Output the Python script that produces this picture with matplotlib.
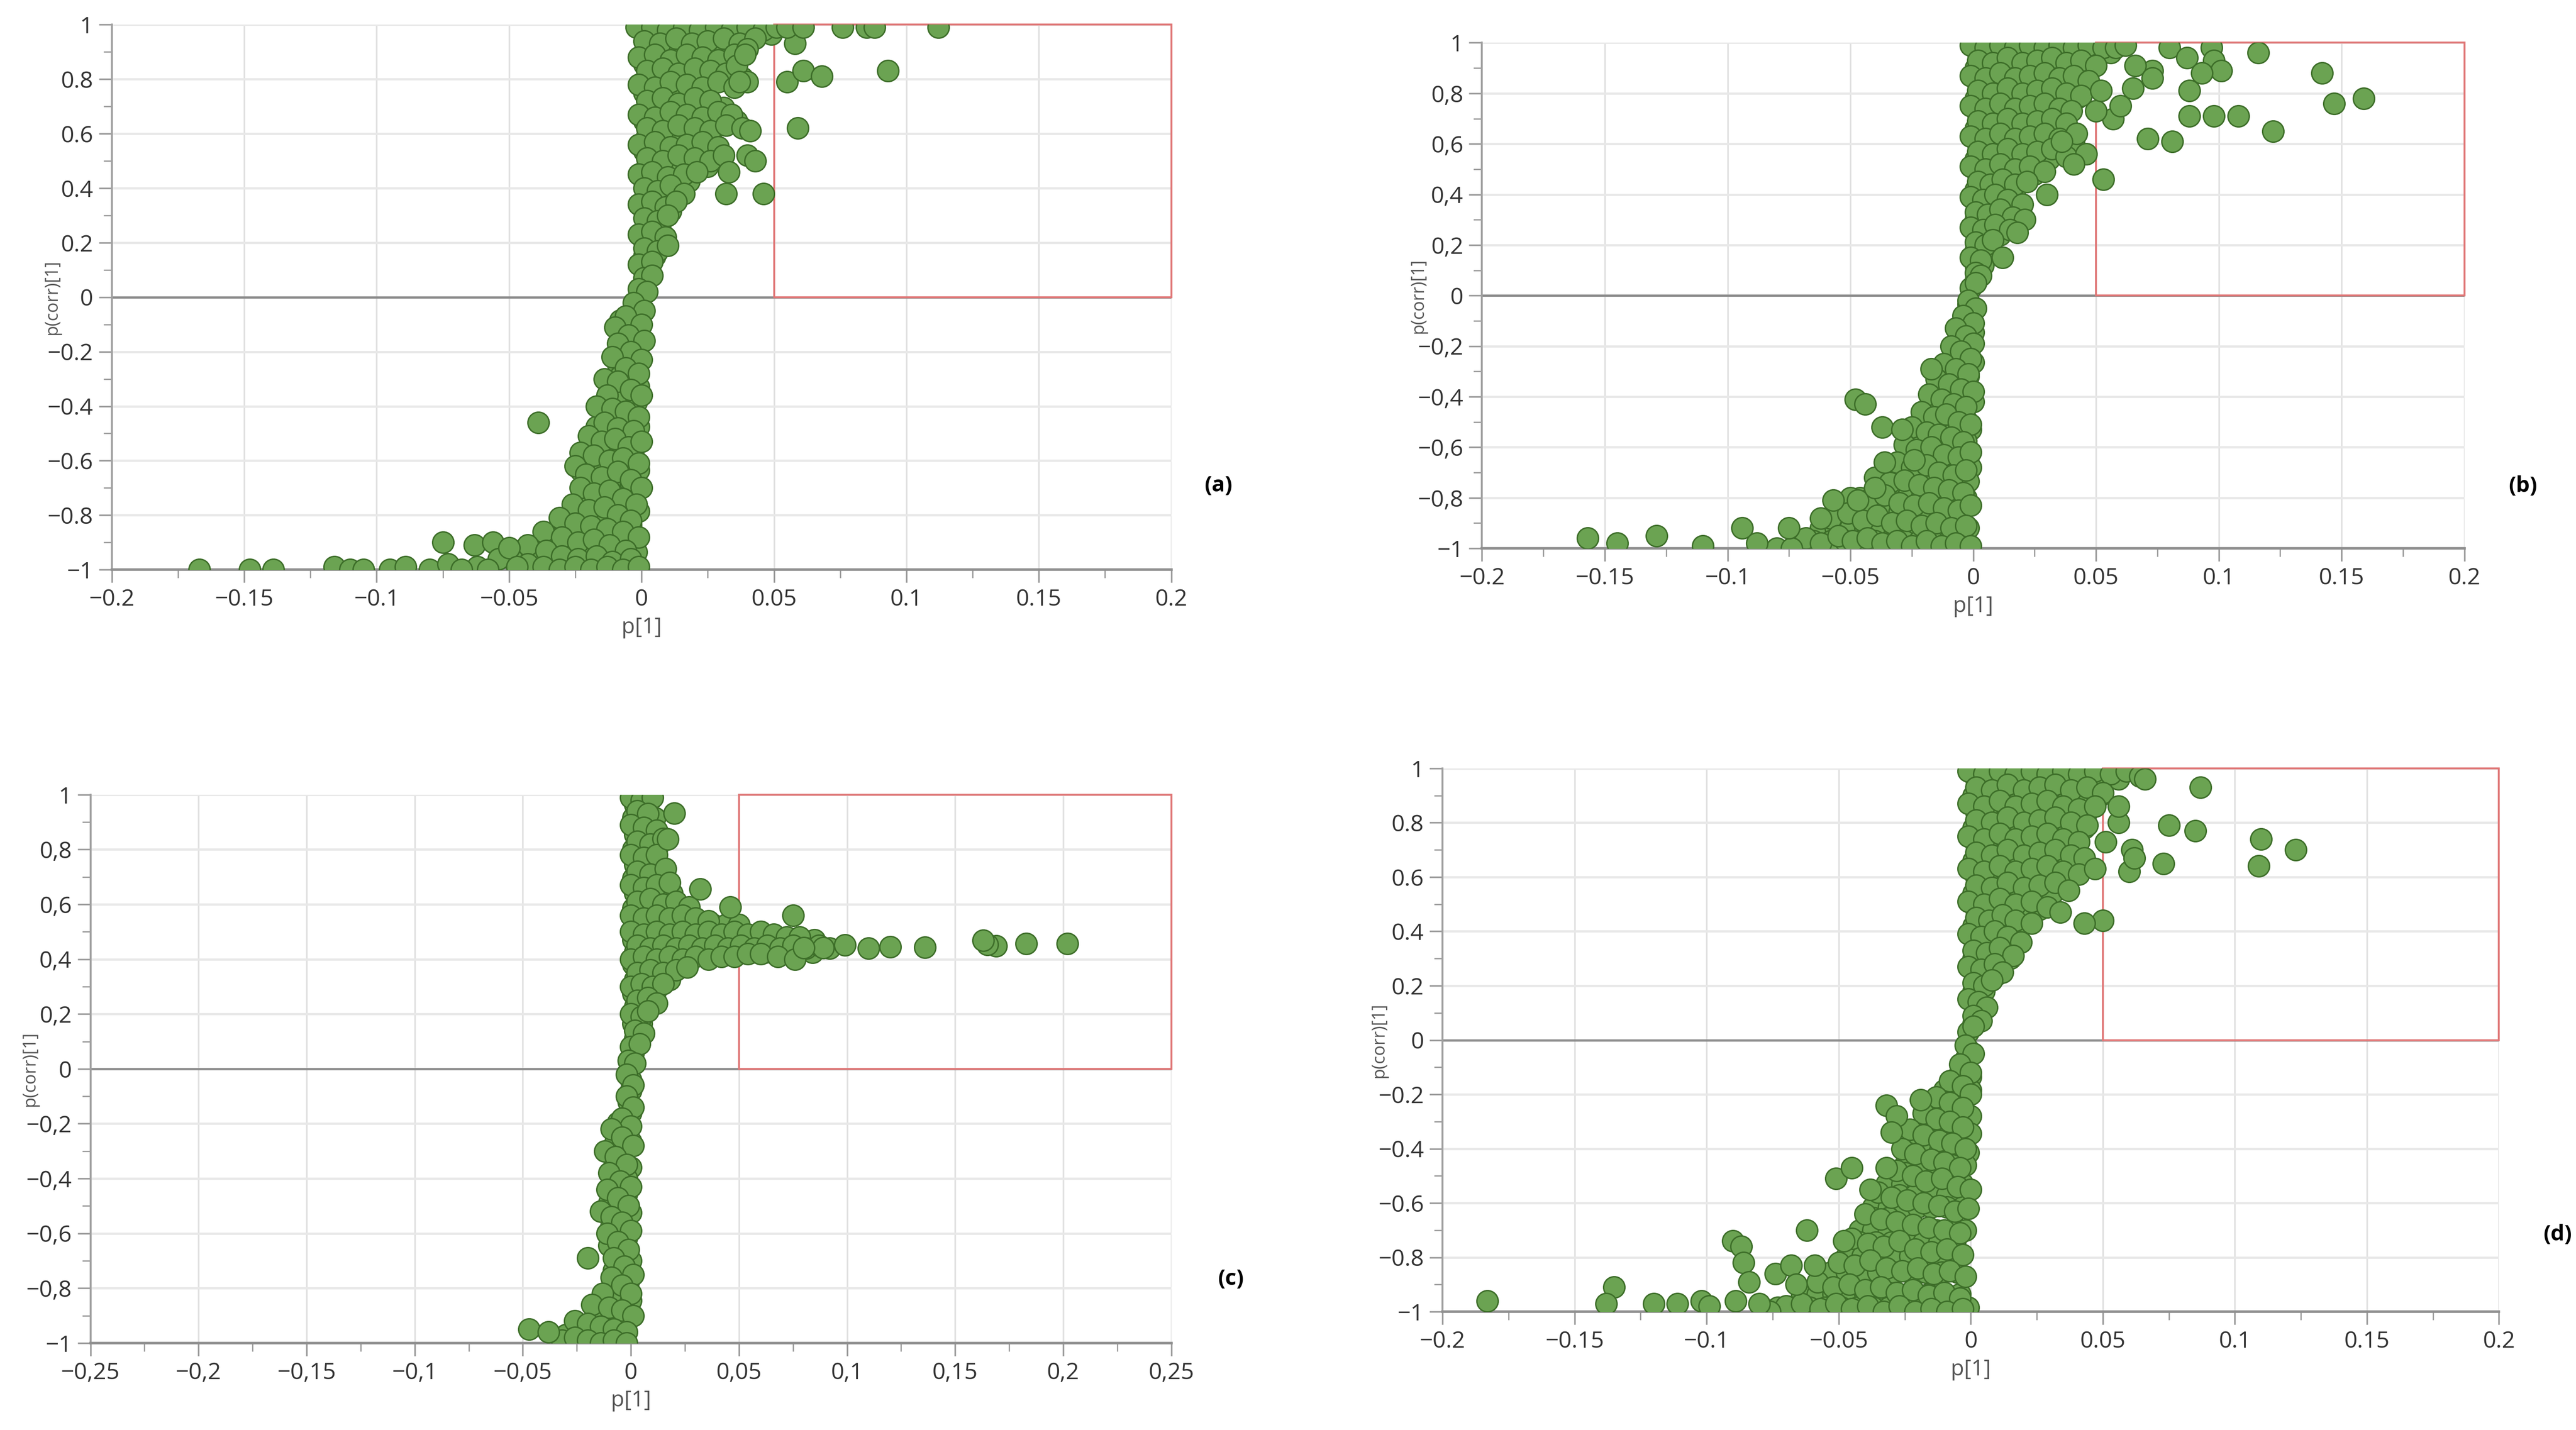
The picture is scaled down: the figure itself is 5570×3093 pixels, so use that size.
import numpy as np
import matplotlib
matplotlib.use("Agg")
import matplotlib.pyplot as plt
from matplotlib.ticker import MultipleLocator, FuncFormatter
from matplotlib.patches import Rectangle

plt.rcParams['font.family'] = ['Open Sans', 'DejaVu Sans']

# ---- data (p[1], p(corr)[1]) ----
a_upper = [
    (-0.002, 0.99), (0.004, 0.99), (0.010, 0.98), (0.016, 0.99), (0.022, 0.98), (0.028, 0.99), (0.034, 0.98), (0.040, 0.99), (0.046, 0.98), (0.051, 0.99),
    (0.001, 0.94), (0.007, 0.93), (0.013, 0.95), (0.019, 0.93), (0.025, 0.94), (0.031, 0.95), (0.037, 0.93), (0.043, 0.95),
    (-0.001, 0.88), (0.005, 0.89), (0.011, 0.87), (0.017, 0.89), (0.023, 0.88), (0.029, 0.87), (0.035, 0.89), (0.040, 0.91),
    (0.002, 0.83), (0.008, 0.84), (0.014, 0.82), (0.020, 0.84), (0.026, 0.83), (0.032, 0.82), (0.036, 0.85),
    (-0.001, 0.78), (0.005, 0.77), (0.011, 0.79), (0.017, 0.78), (0.023, 0.77), (0.029, 0.79), (0.035, 0.77), (0.040, 0.79),
    (0.002, 0.72), (0.008, 0.73), (0.014, 0.71), (0.020, 0.73), (0.026, 0.72),
    (-0.001, 0.67), (0.005, 0.66), (0.011, 0.68), (0.017, 0.67), (0.023, 0.66), (0.029, 0.68), (0.034, 0.67),
    (0.002, 0.62), (0.008, 0.61), (0.014, 0.63), (0.020, 0.62), (0.026, 0.61), (0.032, 0.63), (0.038, 0.62), (0.041, 0.61),
    (-0.001, 0.56), (0.005, 0.57), (0.011, 0.55), (0.017, 0.56), (0.023, 0.57), (0.029, 0.55),
    (0.002, 0.51), (0.008, 0.50), (0.014, 0.52), (0.020, 0.51), (0.026, 0.50), (0.031, 0.52),
    (-0.001, 0.45), (0.004, 0.46), (0.010, 0.44), (0.016, 0.45), (0.021, 0.46),
    (0.001, 0.40), (0.006, 0.39), (0.011, 0.41), (0.016, 0.38),
    (-0.001, 0.34), (0.004, 0.35), (0.009, 0.33), (0.013, 0.35),
    (0.001, 0.29), (0.006, 0.28), (0.010, 0.30),
    (-0.001, 0.23), (0.004, 0.24), (0.009, 0.22),
    (0.001, 0.18), (0.006, 0.17), (0.010, 0.19),
    (-0.001, 0.12), (0.004, 0.13),
    (0.001, 0.07), (0.004, 0.08),
    (-0.001, 0.03), (0.002, 0.02),
]
a_lower = [
    (-0.003, -0.02), (0.001, -0.05), (-0.006, -0.07), (0.000, -0.10), (-0.010, -0.11), (-0.005, -0.14), (0.001, -0.16),
    (-0.009, -0.17), (-0.004, -0.20), (0.000, -0.23), (-0.011, -0.22), (-0.006, -0.26), (-0.001, -0.28), (-0.014, -0.30),
    (-0.009, -0.31), (-0.004, -0.34), (0.000, -0.36), (-0.013, -0.36), (-0.017, -0.40), (-0.011, -0.41), (-0.006, -0.42),
    (-0.001, -0.44), (-0.014, -0.46), (-0.009, -0.48), (-0.003, -0.49), (-0.020, -0.51), (-0.015, -0.53), (-0.010, -0.52),
    (-0.005, -0.55), (0.000, -0.53), (-0.023, -0.57), (-0.018, -0.58), (-0.012, -0.60), (-0.007, -0.59), (-0.001, -0.61),
    (-0.025, -0.62), (-0.021, -0.65), (-0.015, -0.66), (-0.009, -0.64), (-0.004, -0.67), (0.000, -0.70), (-0.023, -0.70),
    (-0.018, -0.72), (-0.012, -0.71), (-0.007, -0.74), (-0.002, -0.76), (-0.026, -0.76), (-0.020, -0.78), (-0.014, -0.77),
    (-0.009, -0.80), (-0.004, -0.82), (-0.031, -0.81), (-0.025, -0.83), (-0.019, -0.84), (-0.013, -0.85), (-0.007, -0.86),
    (-0.001, -0.88), (-0.037, -0.86), (-0.030, -0.88), (-0.024, -0.90), (-0.018, -0.89), (-0.012, -0.91), (-0.006, -0.93),
    (-0.043, -0.91), (-0.036, -0.93), (-0.030, -0.95), (-0.024, -0.96), (-0.017, -0.95), (-0.011, -0.97), (-0.004, -0.96),
    (-0.049, -0.96), (-0.043, -0.98), (-0.037, -0.99), (-0.031, -1.00), (-0.025, -0.99), (-0.019, -1.00), (-0.013, -0.99),
    (-0.007, -1.00), (-0.001, -0.99),
]
# extra rows packed between the ones above (p(corr), list of p)
a_fill = [
    (0.965, [0.001, 0.007, 0.013, 0.019, 0.025, 0.031, 0.037, 0.043, 0.049]),
    (0.91, [0.002, 0.008, 0.014, 0.020, 0.026, 0.032, 0.038]),
    (0.855, [0.001, 0.007, 0.013, 0.019, 0.025, 0.031]),
    (0.805, [0.002, 0.008, 0.014, 0.020, 0.026, 0.032, 0.038]),
    (0.75, [0.001, 0.007, 0.013, 0.019, 0.025]),
    (0.695, [0.002, 0.008, 0.014, 0.020, 0.026, 0.031]),
    (0.645, [0.001, 0.007, 0.013, 0.019, 0.025, 0.031, 0.036]),
    (0.59, [0.002, 0.008, 0.014, 0.020, 0.026]),
    (0.535, [0.001, 0.007, 0.013, 0.019, 0.025]),
    (0.48, [0.002, 0.008, 0.014, 0.020, 0.025]),
    (0.425, [0.001, 0.007, 0.013, 0.018]),
    (0.37, [0.002, 0.007, 0.012]),
    (0.315, [0.001, 0.006, 0.011]),
    (0.26, [0.002, 0.007]),
    (0.205, [0.001, 0.006]),
    (0.15, [0.001, 0.005]),
    (0.095, [0.001]),
    (0.05, [0.001]),
    (-0.04, [-0.002]),
    (-0.085, [-0.003, -0.008]),
    (-0.13, [-0.002, -0.008]),
    (-0.19, [-0.002, -0.007]),
    (-0.245, [-0.003, -0.009]),
    (-0.29, [-0.002, -0.008]),
    (-0.33, [-0.012, -0.006, -0.001]),
    (-0.385, [-0.014, -0.008, -0.002]),
    (-0.435, [-0.011, -0.005]),
    (-0.475, [-0.017, -0.012, -0.006, -0.001]),
    (-0.535, [-0.019, -0.013, -0.007, -0.002]),
    (-0.585, [-0.021, -0.015, -0.009, -0.003]),
    (-0.635, [-0.023, -0.017, -0.011, -0.006, -0.001]),
    (-0.685, [-0.020, -0.015, -0.009, -0.004]),
    (-0.73, [-0.021, -0.015, -0.010, -0.004]),
    (-0.785, [-0.023, -0.017, -0.011, -0.006, -0.001]),
    (-0.835, [-0.028, -0.022, -0.016, -0.010, -0.004]),
    (-0.885, [-0.034, -0.027, -0.021, -0.015, -0.009, -0.003]),
    (-0.935, [-0.040, -0.033, -0.027, -0.020, -0.014, -0.008, -0.002]),
    (-0.975, [-0.046, -0.040, -0.034, -0.028, -0.022, -0.016, -0.010, -0.004]),
]
a_outliers = [
    (0.046, 0.38), (0.032, 0.38), (0.033, 0.46), (0.040, 0.52), (0.043, 0.50), (0.037, 0.79), (0.039, 0.89),
    (0.055, 0.79), (0.061, 0.83), (0.068, 0.81), (0.093, 0.83), (0.059, 0.62), (0.058, 0.93),
    (0.055, 0.99), (0.061, 0.99), (0.076, 0.99), (0.085, 0.99), (0.088, 0.99), (0.112, 0.99),
    (-0.039, -0.46), (-0.167, -1.00), (-0.148, -1.00), (-0.139, -1.00), (-0.116, -0.99), (-0.110, -1.00),
    (-0.105, -1.00), (-0.095, -1.00), (-0.089, -0.99), (-0.080, -1.00), (-0.075, -0.90), (-0.073, -0.98),
    (-0.063, -0.91), (-0.062, -0.99), (-0.056, -0.90), (-0.054, -0.96), (-0.050, -0.92), (-0.047, -0.99),
    (-0.068, -1.00), (-0.058, -1.00),
]

b_upper = [
    (-0.001, 0.99), (0.005, 0.98), (0.011, 0.99), (0.017, 0.98), (0.023, 0.99), (0.029, 0.98), (0.035, 0.99), (0.041, 0.98), (0.047, 0.99), (0.053, 0.98), (0.060, 0.99),
    (0.002, 0.93), (0.008, 0.92), (0.014, 0.94), (0.020, 0.92), (0.026, 0.93), (0.032, 0.94), (0.038, 0.92), (0.044, 0.93), (0.050, 0.91),
    (-0.001, 0.87), (0.005, 0.86), (0.011, 0.88), (0.017, 0.86), (0.023, 0.87), (0.029, 0.88), (0.035, 0.86), (0.041, 0.87), (0.047, 0.85),
    (0.002, 0.81), (0.008, 0.80), (0.014, 0.82), (0.020, 0.80), (0.026, 0.81), (0.032, 0.82), (0.038, 0.80), (0.044, 0.79),
    (-0.001, 0.75), (0.005, 0.74), (0.011, 0.76), (0.017, 0.74), (0.023, 0.75), (0.029, 0.76), (0.035, 0.74), (0.040, 0.73),
    (0.002, 0.69), (0.008, 0.68), (0.014, 0.70), (0.020, 0.68), (0.026, 0.69), (0.032, 0.70), (0.038, 0.68),
    (-0.001, 0.63), (0.005, 0.62), (0.011, 0.64), (0.017, 0.62), (0.023, 0.63), (0.029, 0.64), (0.035, 0.62), (0.041, 0.61),
    (0.002, 0.57), (0.008, 0.56), (0.014, 0.58), (0.020, 0.56), (0.026, 0.57), (0.032, 0.58), (0.038, 0.55),
    (-0.001, 0.51), (0.005, 0.50), (0.011, 0.52), (0.017, 0.50), (0.023, 0.51), (0.029, 0.49),
    (0.002, 0.45), (0.007, 0.44), (0.012, 0.46), (0.017, 0.44), (0.022, 0.45),
    (-0.001, 0.39), (0.004, 0.38), (0.009, 0.40), (0.014, 0.38), (0.020, 0.36),
    (0.001, 0.33), (0.006, 0.32), (0.011, 0.34), (0.016, 0.31), (0.021, 0.30),
    (-0.001, 0.27), (0.004, 0.26), (0.009, 0.28), (0.015, 0.26), (0.018, 0.25),
    (0.001, 0.21), (0.005, 0.20), (0.008, 0.22),
    (-0.001, 0.15), (0.003, 0.14),
    (0.001, 0.09), (0.003, 0.08),
    (-0.001, 0.03), (0.001, 0.05),
]
b_lower = [
    (-0.002, -0.02), (0.001, -0.05), (-0.004, -0.08), (0.000, -0.11), (-0.007, -0.13), (-0.003, -0.16), (0.000, -0.19),
    (-0.009, -0.20), (-0.005, -0.22), (-0.001, -0.25), (-0.012, -0.27), (-0.007, -0.29), (-0.002, -0.31), (-0.015, -0.33),
    (-0.010, -0.35), (-0.005, -0.37), (0.000, -0.38), (-0.018, -0.39), (-0.013, -0.41), (-0.008, -0.43), (-0.003, -0.44),
    (-0.021, -0.46), (-0.016, -0.48), (-0.011, -0.47), (-0.006, -0.50), (-0.001, -0.51), (-0.025, -0.52), (-0.019, -0.54),
    (-0.014, -0.55), (-0.009, -0.56), (-0.004, -0.58), (-0.028, -0.59), (-0.023, -0.61), (-0.017, -0.60), (-0.012, -0.63),
    (-0.006, -0.64), (-0.001, -0.62), (-0.031, -0.66), (-0.025, -0.68), (-0.019, -0.67), (-0.014, -0.70), (-0.008, -0.71),
    (-0.003, -0.69), (-0.040, -0.72), (-0.034, -0.74), (-0.028, -0.73), (-0.022, -0.75), (-0.016, -0.76), (-0.010, -0.77),
    (-0.004, -0.78), (-0.050, -0.80), (-0.043, -0.81), (-0.036, -0.79), (-0.030, -0.82), (-0.024, -0.83), (-0.018, -0.82),
    (-0.012, -0.84), (-0.006, -0.85), (-0.001, -0.83), (-0.058, -0.88), (-0.051, -0.86), (-0.045, -0.89), (-0.039, -0.87),
    (-0.033, -0.90), (-0.027, -0.89), (-0.021, -0.91), (-0.015, -0.90), (-0.009, -0.92), (-0.003, -0.91), (-0.068, -0.96),
    (-0.062, -0.98), (-0.055, -0.95), (-0.049, -0.97), (-0.043, -0.96), (-0.037, -0.98), (-0.031, -0.97), (-0.025, -0.99),
    (-0.019, -0.97), (-0.013, -0.99), (-0.007, -0.98), (-0.001, -0.99), (-0.080, -1.00), (-0.074, -1.00),
]
b_fill = [
    (0.96, [0.002, 0.008, 0.014, 0.020, 0.026, 0.032, 0.038, 0.044, 0.050, 0.056]),
    (0.90, [0.001, 0.007, 0.013, 0.019, 0.025, 0.031, 0.037, 0.043, 0.048]),
    (0.84, [0.002, 0.008, 0.014, 0.020, 0.026, 0.032, 0.038, 0.044]),
    (0.78, [0.001, 0.007, 0.013, 0.019, 0.025, 0.031, 0.037, 0.042]),
    (0.72, [0.002, 0.008, 0.014, 0.020, 0.026, 0.032, 0.037]),
    (0.66, [0.001, 0.007, 0.013, 0.019, 0.025, 0.031, 0.037]),
    (0.60, [0.002, 0.008, 0.014, 0.020, 0.026, 0.032, 0.038]),
    (0.54, [0.001, 0.007, 0.013, 0.019, 0.025, 0.031]),
    (0.48, [0.002, 0.008, 0.014, 0.020, 0.025]),
    (0.42, [0.001, 0.007, 0.012, 0.017]),
    (0.36, [0.002, 0.007, 0.012, 0.017]),
    (0.30, [0.001, 0.006, 0.011, 0.016]),
    (0.24, [0.002, 0.007, 0.011]),
    (0.18, [0.001, 0.005]),
    (0.12, [0.001, 0.004]),
    (0.06, [0.001]),
    (-0.035, [-0.002]),
    (-0.095, [-0.003]),
    (-0.145, [-0.005, 0.000]),
    (-0.21, [-0.007, -0.002]),
    (-0.265, [-0.009, -0.004, 0.000]),
    (-0.32, [-0.012, -0.007, -0.002]),
    (-0.36, [-0.013, -0.008, -0.003]),
    (-0.42, [-0.016, -0.010, -0.005, 0.000]),
    (-0.49, [-0.019, -0.013, -0.008, -0.003]),
    (-0.53, [-0.022, -0.016, -0.011, -0.006, -0.001]),
    (-0.575, [-0.025, -0.020, -0.014, -0.009, -0.003]),
    (-0.62, [-0.026, -0.020, -0.015, -0.009, -0.004]),
    (-0.68, [-0.028, -0.022, -0.017, -0.011, -0.006, -0.001]),
    (-0.735, [-0.037, -0.031, -0.025, -0.019, -0.013, -0.007, -0.002]),
    (-0.80, [-0.046, -0.040, -0.033, -0.027, -0.021, -0.015, -0.009, -0.003]),
    (-0.855, [-0.054, -0.048, -0.042, -0.036, -0.030, -0.024, -0.018, -0.012, -0.006]),
    (-0.92, [-0.062, -0.056, -0.050, -0.044, -0.038, -0.032, -0.026, -0.020, -0.014, -0.008, -0.002]),
    (-0.97, [-0.072, -0.065, -0.058, -0.052, -0.046, -0.040, -0.034, -0.028, -0.022, -0.016, -0.010, -0.004]),
]
b_outliers = [
    (0.116, 0.96), (0.142, 0.88), (0.147, 0.76), (0.159, 0.78), (0.122, 0.65), (0.108, 0.71), (0.098, 0.71),
    (0.088, 0.71), (0.088, 0.81), (0.081, 0.61), (0.071, 0.62), (0.080, 0.98), (0.087, 0.94), (0.097, 0.98),
    (0.098, 0.93), (0.101, 0.89), (0.093, 0.88), (0.053, 0.46), (0.030, 0.40), (0.046, 0.56), (0.057, 0.70),
    (0.060, 0.75), (0.065, 0.82), (0.073, 0.89), (0.066, 0.91), (0.058, 0.98), (0.062, 0.99), (0.073, 0.86),
    (0.050, 0.73), (0.052, 0.81), (0.042, 0.64), (0.036, 0.61), (0.041, 0.52), (0.012, 0.15),
    (-0.157, -0.96), (-0.145, -0.98), (-0.129, -0.95), (-0.110, -0.99), (-0.094, -0.92), (-0.088, -0.98),
    (-0.075, -0.92), (-0.062, -0.88), (-0.057, -0.81), (-0.048, -0.41), (-0.044, -0.43), (-0.037, -0.52),
    (-0.029, -0.53), (-0.036, -0.66), (-0.024, -0.65), (-0.047, -0.81), (-0.040, -0.76), (-0.017, -0.29),
]

c_upper = [
    (0.000, 0.99), (0.005, 0.98), (0.010, 0.99), (0.003, 0.94), (0.008, 0.93), (0.000, 0.89), (0.006, 0.88), (0.012, 0.87),
    (0.003, 0.83), (0.009, 0.82), (0.015, 0.84), (0.000, 0.78), (0.006, 0.77), (0.012, 0.78), (0.003, 0.72), (0.009, 0.71),
    (0.016, 0.73), (0.000, 0.67), (0.006, 0.66), (0.012, 0.67), (0.018, 0.68), (0.003, 0.61), (0.009, 0.62), (0.015, 0.60),
    (0.021, 0.61), (0.027, 0.59), (0.000, 0.56), (0.006, 0.55), (0.012, 0.56), (0.018, 0.55), (0.024, 0.56), (0.030, 0.55),
    (0.036, 0.54),
    (0.000, 0.50), (0.006, 0.49), (0.012, 0.50), (0.018, 0.49), (0.024, 0.50), (0.030, 0.49), (0.036, 0.50), (0.042, 0.49),
    (0.048, 0.50), (0.054, 0.49), (0.060, 0.50), (0.066, 0.49), (0.072, 0.48), (0.078, 0.48),
    (0.003, 0.45), (0.009, 0.44), (0.015, 0.45), (0.021, 0.44), (0.027, 0.45), (0.033, 0.44), (0.039, 0.45), (0.045, 0.44),
    (0.051, 0.45), (0.057, 0.44), (0.063, 0.45), (0.069, 0.44), (0.075, 0.45), (0.081, 0.44), (0.087, 0.45), (0.092, 0.44),
    (0.000, 0.40), (0.006, 0.41), (0.012, 0.40), (0.018, 0.41), (0.024, 0.40), (0.030, 0.41), (0.036, 0.40), (0.042, 0.41),
    (0.048, 0.41), (0.054, 0.42), (0.060, 0.42), (0.068, 0.41), (0.076, 0.40),
    (0.003, 0.35), (0.009, 0.36), (0.015, 0.35), (0.021, 0.36), (0.026, 0.37),
    (0.000, 0.30), (0.005, 0.31), (0.010, 0.30), (0.015, 0.31),
    (0.003, 0.25), (0.008, 0.26), (0.012, 0.24),
    (0.000, 0.20), (0.005, 0.19), (0.008, 0.21),
    (0.002, 0.14), (0.006, 0.13),
    (0.000, 0.08), (0.004, 0.09),
    (-0.001, 0.03), (0.002, 0.02),
]
c_lower = [
    (-0.002, -0.02), (0.001, -0.06), (-0.002, -0.10), (0.001, -0.14), (-0.004, -0.18), (0.000, -0.21), (-0.009, -0.22),
    (-0.004, -0.25), (0.001, -0.28), (-0.012, -0.30), (-0.007, -0.32), (-0.002, -0.35), (-0.010, -0.38), (-0.005, -0.41),
    (0.000, -0.43), (-0.011, -0.44), (-0.006, -0.47), (-0.001, -0.50), (-0.014, -0.52), (-0.009, -0.54), (-0.004, -0.56),
    (0.000, -0.59), (-0.011, -0.60), (-0.006, -0.63), (-0.001, -0.66), (-0.020, -0.69), (-0.008, -0.69), (-0.003, -0.72),
    (0.001, -0.75), (-0.009, -0.76), (-0.004, -0.79), (0.000, -0.82), (-0.013, -0.82), (-0.018, -0.86), (-0.010, -0.87),
    (-0.004, -0.88), (0.001, -0.90), (-0.026, -0.92), (-0.020, -0.93), (-0.014, -0.94), (-0.008, -0.95), (-0.002, -0.96),
    (-0.032, -0.99), (-0.026, -0.98), (-0.020, -0.99), (-0.014, -1.00), (-0.008, -0.99), (-0.002, -1.00),
]
c_fill = [
    (0.965, [0.002, 0.007]),
    (0.915, [0.001, 0.006, 0.011]),
    (0.855, [0.002, 0.008, 0.013]),
    (0.80, [0.001, 0.007, 0.012]),
    (0.745, [0.002, 0.008, 0.013]),
    (0.695, [0.001, 0.007, 0.013]),
    (0.64, [0.002, 0.008, 0.014, 0.019]),
    (0.585, [0.001, 0.007, 0.013, 0.019, 0.024]),
    (0.525, [0.002, 0.008, 0.014, 0.020, 0.026, 0.032, 0.038, 0.044, 0.050]),
    (0.47, [0.001, 0.007, 0.013, 0.019, 0.025, 0.031, 0.037, 0.043, 0.049, 0.055, 0.061, 0.067, 0.073, 0.079, 0.085]),
    (0.425, [0.002, 0.008, 0.014, 0.020, 0.026, 0.032, 0.038, 0.044, 0.050, 0.056, 0.062, 0.072, 0.084]),
    (0.38, [0.001, 0.007, 0.013, 0.019, 0.025]),
    (0.325, [0.002, 0.008, 0.013, 0.018]),
    (0.275, [0.001, 0.006, 0.011]),
    (0.225, [0.002, 0.007]),
    (0.165, [0.001, 0.005]),
    (0.11, [0.002]),
    (0.055, [0.001]),
    (-0.04, [0.000]),
    (-0.08, [0.000]),
    (-0.12, [-0.001]),
    (-0.16, [0.000]),
    (-0.195, [-0.006]),
    (-0.235, [-0.002]),
    (-0.265, [-0.007, 0.000]),
    (-0.33, [-0.004]),
    (-0.36, [-0.008, 0.000]),
    (-0.40, [-0.002]),
    (-0.455, [-0.002]),
    (-0.49, [-0.010]),
    (-0.525, [-0.005, 0.000]),
    (-0.57, [-0.009]),
    (-0.615, [-0.002]),
    (-0.645, [-0.010]),
    (-0.70, [-0.005, 0.000]),
    (-0.735, [-0.008]),
    (-0.775, [-0.001]),
    (-0.80, [-0.008]),
    (-0.845, [-0.005, 0.000]),
    (-0.89, [-0.014]),
    (-0.925, [-0.007, -0.002]),
    (-0.97, [-0.030, -0.023, -0.017, -0.011, -0.005]),
]
c_outliers = [
    (0.202, 0.457), (0.183, 0.457), (0.169, 0.449), (0.165, 0.454), (0.163, 0.469), (0.136, 0.444), (0.120, 0.445),
    (0.110, 0.440), (0.099, 0.452), (0.089, 0.441), (0.080, 0.441), (0.075, 0.56), (0.046, 0.59), (0.032, 0.655),
    (0.020, 0.933), (0.017, 0.838), (-0.047, -0.95), (-0.038, -0.96),
]

d_upper = [
    (-0.001, 0.99), (0.005, 0.98), (0.011, 0.99), (0.017, 0.98), (0.023, 0.99), (0.029, 0.98), (0.035, 0.99), (0.041, 0.98), (0.047, 0.99), (0.053, 0.98), (0.059, 0.99), (0.064, 0.97),
    (0.002, 0.93), (0.008, 0.92), (0.014, 0.94), (0.020, 0.92), (0.026, 0.93), (0.032, 0.94), (0.038, 0.92), (0.044, 0.93), (0.050, 0.91),
    (-0.001, 0.87), (0.005, 0.86), (0.011, 0.88), (0.017, 0.86), (0.023, 0.87), (0.029, 0.88), (0.035, 0.86), (0.041, 0.85), (0.047, 0.86),
    (0.002, 0.81), (0.008, 0.80), (0.014, 0.82), (0.020, 0.80), (0.026, 0.81), (0.032, 0.82), (0.038, 0.80), (0.044, 0.79),
    (-0.001, 0.75), (0.005, 0.74), (0.011, 0.76), (0.017, 0.74), (0.023, 0.75), (0.029, 0.76), (0.035, 0.74), (0.041, 0.73),
    (0.002, 0.69), (0.008, 0.68), (0.014, 0.70), (0.020, 0.68), (0.026, 0.69), (0.032, 0.70), (0.038, 0.68), (0.043, 0.67),
    (-0.001, 0.63), (0.005, 0.62), (0.011, 0.64), (0.017, 0.62), (0.023, 0.63), (0.029, 0.64), (0.035, 0.62), (0.041, 0.61),
    (0.002, 0.57), (0.008, 0.56), (0.014, 0.58), (0.020, 0.56), (0.026, 0.57), (0.032, 0.58), (0.037, 0.55),
    (-0.001, 0.51), (0.005, 0.50), (0.011, 0.52), (0.017, 0.50), (0.023, 0.51), (0.029, 0.49), (0.034, 0.47),
    (0.002, 0.45), (0.007, 0.44), (0.012, 0.46), (0.017, 0.44), (0.023, 0.43),
    (-0.001, 0.39), (0.004, 0.38), (0.009, 0.40), (0.014, 0.38), (0.019, 0.36),
    (0.001, 0.33), (0.006, 0.32), (0.011, 0.34), (0.016, 0.31),
    (-0.001, 0.27), (0.004, 0.26), (0.009, 0.28), (0.012, 0.25),
    (0.001, 0.21), (0.005, 0.20), (0.008, 0.22),
    (-0.001, 0.15), (0.003, 0.14), (0.006, 0.12),
    (0.001, 0.09), (0.004, 0.07),
    (-0.001, 0.03), (0.001, 0.05),
]
d_lower = [
    (-0.002, -0.02), (0.001, -0.05), (-0.004, -0.09), (0.000, -0.12), (-0.008, -0.15), (-0.003, -0.17), (0.000, -0.20),
    (-0.013, -0.21), (-0.008, -0.23), (-0.003, -0.25), (-0.018, -0.27), (-0.013, -0.29), (-0.008, -0.30), (-0.003, -0.32),
    (-0.023, -0.33), (-0.018, -0.35), (-0.012, -0.37), (-0.007, -0.38), (-0.002, -0.40), (-0.026, -0.40), (-0.021, -0.42),
    (-0.015, -0.44), (-0.010, -0.45), (-0.004, -0.47), (-0.028, -0.48), (-0.022, -0.50), (-0.017, -0.52), (-0.011, -0.51),
    (-0.005, -0.54), (0.000, -0.55), (-0.035, -0.56), (-0.030, -0.58), (-0.024, -0.59), (-0.018, -0.60), (-0.012, -0.61),
    (-0.006, -0.63), (-0.001, -0.62), (-0.040, -0.64), (-0.034, -0.66), (-0.028, -0.67), (-0.022, -0.68), (-0.016, -0.69),
    (-0.010, -0.70), (-0.004, -0.71), (-0.045, -0.73), (-0.039, -0.75), (-0.033, -0.76), (-0.027, -0.74), (-0.021, -0.77),
    (-0.015, -0.78), (-0.009, -0.77), (-0.003, -0.79), (-0.050, -0.82), (-0.044, -0.83), (-0.038, -0.81), (-0.032, -0.84),
    (-0.026, -0.85), (-0.020, -0.84), (-0.014, -0.86), (-0.008, -0.85), (-0.002, -0.87), (-0.058, -0.89), (-0.052, -0.91),
    (-0.046, -0.90), (-0.040, -0.92), (-0.034, -0.91), (-0.028, -0.93), (-0.022, -0.92), (-0.016, -0.94), (-0.010, -0.93),
    (-0.004, -0.95), (-0.070, -0.98), (-0.064, -0.97), (-0.057, -0.99), (-0.051, -0.97), (-0.045, -0.99), (-0.039, -0.98),
    (-0.033, -1.00), (-0.027, -0.98), (-0.021, -1.00), (-0.015, -0.99), (-0.009, -1.00), (-0.003, -0.99), (-0.076, -1.00),
]
d_fill = [
    (0.96, [0.002, 0.008, 0.014, 0.020, 0.026, 0.032, 0.038, 0.044, 0.050, 0.056]),
    (0.90, [0.001, 0.007, 0.013, 0.019, 0.025, 0.031, 0.037, 0.043, 0.049]),
    (0.84, [0.002, 0.008, 0.014, 0.020, 0.026, 0.032, 0.038, 0.044]),
    (0.78, [0.001, 0.007, 0.013, 0.019, 0.025, 0.031, 0.037, 0.043]),
    (0.72, [0.002, 0.008, 0.014, 0.020, 0.026, 0.032, 0.038]),
    (0.66, [0.001, 0.007, 0.013, 0.019, 0.025, 0.031, 0.037, 0.042]),
    (0.60, [0.002, 0.008, 0.014, 0.020, 0.026, 0.032, 0.038]),
    (0.54, [0.001, 0.007, 0.013, 0.019, 0.025, 0.031]),
    (0.48, [0.002, 0.008, 0.014, 0.020, 0.026]),
    (0.42, [0.001, 0.007, 0.013, 0.018]),
    (0.36, [0.002, 0.007, 0.012, 0.017]),
    (0.30, [0.001, 0.006, 0.011, 0.015]),
    (0.24, [0.002, 0.007, 0.010]),
    (0.18, [0.001, 0.005]),
    (0.10, [0.002]),
    (0.06, [0.001]),
    (-0.035, [-0.001]),
    (-0.07, [-0.002]),
    (-0.105, [-0.002]),
    (-0.135, [-0.005, 0.000]),
    (-0.185, [-0.010, -0.005, 0.000]),
    (-0.22, [-0.004]),
    (-0.28, [-0.016, -0.010, -0.005, 0.000]),
    (-0.31, [-0.018]),
    (-0.345, [-0.021, -0.015, -0.010, -0.004, 0.000]),
    (-0.415, [-0.024, -0.018, -0.012, -0.007, -0.001]),
    (-0.46, [-0.025, -0.019, -0.013, -0.007, -0.002]),
    (-0.49, [-0.025]),
    (-0.53, [-0.032, -0.026, -0.020, -0.014, -0.008, -0.003]),
    (-0.57, [-0.027, -0.021, -0.015, -0.009]),
    (-0.615, [-0.037, -0.031, -0.025, -0.020, -0.015, -0.009, -0.003]),
    (-0.655, [-0.037, -0.031]),
    (-0.70, [-0.042, -0.037, -0.031, -0.025, -0.019, -0.013, -0.007, -0.002]),
    (-0.745, [-0.042, -0.036, -0.030, -0.024, -0.018, -0.012, -0.006]),
    (-0.795, [-0.047, -0.041, -0.035, -0.029, -0.023, -0.017, -0.011, -0.005]),
    (-0.855, [-0.053, -0.047, -0.041, -0.035, -0.029, -0.023, -0.017, -0.011, -0.005]),
    (-0.935, [-0.064, -0.058, -0.052, -0.046, -0.040, -0.034, -0.028, -0.022, -0.016, -0.010, -0.004]),
    (-0.985, [-0.073, -0.067, -0.061, -0.055, -0.049, -0.043, -0.037, -0.031, -0.025, -0.019, -0.013, -0.007, -0.001]),
]
d_outliers = [
    (0.087, 0.93), (0.075, 0.79), (0.085, 0.77), (0.110, 0.74), (0.123, 0.70), (0.109, 0.64), (0.073, 0.65),
    (0.061, 0.70), (0.060, 0.62), (0.062, 0.67), (0.051, 0.73), (0.056, 0.80), (0.066, 0.96), (0.050, 0.44),
    (0.043, 0.43), (0.047, 0.63), (0.056, 0.86),
    (-0.183, -0.96), (-0.135, -0.91), (-0.138, -0.97), (-0.120, -0.97), (-0.111, -0.97), (-0.102, -0.96),
    (-0.099, -0.98), (-0.090, -0.74), (-0.087, -0.76), (-0.086, -0.82), (-0.084, -0.89), (-0.089, -0.96),
    (-0.074, -0.86), (-0.068, -0.83), (-0.066, -0.90), (-0.062, -0.70), (-0.059, -0.83), (-0.051, -0.51),
    (-0.045, -0.47), (-0.038, -0.55), (-0.032, -0.47), (-0.048, -0.74), (-0.032, -0.24), (-0.028, -0.28),
    (-0.030, -0.34), (-0.019, -0.22), (-0.080, -0.97),
]


def expand(rows):
    return [(x, y) for y, xs in rows for x in xs]


panels = [
    dict(pts=expand(a_fill) + a_upper + a_lower + a_outliers, rect=[0.0434, 0.6016, 0.4113, 0.3812], lim=0.2,
         xcomma=False, ycomma=False, tag='(a)', tagpos=(1.031, 0.154), ylab_x=-0.048),
    dict(pts=expand(b_fill) + b_upper + b_lower + b_outliers, rect=[0.5753, 0.6165, 0.3814, 0.3536], lim=0.2,
         xcomma=False, ycomma=True, tag='(b)', tagpos=(1.045, 0.123), ylab_x=-0.056),
    dict(pts=expand(c_fill) + c_upper + c_lower + c_outliers, rect=[0.0351, 0.0608, 0.4196, 0.3835], lim=0.25,
         xcomma=True, ycomma=True, tag='(c)', tagpos=(1.043, 0.117), ylab_x=-0.048),
    dict(pts=expand(d_fill) + d_upper + d_lower + d_outliers, rect=[0.5600, 0.0827, 0.4101, 0.3800], lim=0.2,
         xcomma=False, ycomma=False, tag='(d)', tagpos=(1.042, 0.142), ylab_x=-0.052),
]


def make_fmt(comma):
    def f(v, pos):
        s = f"{v:.2f}".rstrip('0').rstrip('.')
        if s == '-0':
            s = '0'
        s = s.replace('-', '\u2212')
        return s.replace('.', ',') if comma else s
    return FuncFormatter(f)


fig = plt.figure(figsize=(55.7, 30.93), dpi=100)

for p in panels:
    ax = fig.add_axes(p['rect'])
    pts = np.array(p['pts'])
    lim = p['lim']
    ax.set_xlim(-lim, lim)
    ax.set_ylim(-1, 1)

    ax.xaxis.set_major_locator(MultipleLocator(0.05))
    ax.xaxis.set_minor_locator(MultipleLocator(0.025))
    ax.yaxis.set_major_locator(MultipleLocator(0.2))
    ax.yaxis.set_minor_locator(MultipleLocator(0.1))
    ax.xaxis.set_major_formatter(make_fmt(p['xcomma']))
    ax.yaxis.set_major_formatter(make_fmt(p['ycomma']))

    ax.grid(axis='x', which='major', color='#e0e0e0', lw=2.5)
    ax.grid(axis='y', which='major', color='#e8e8e8', lw=3.5)
    ax.set_axisbelow(True)

    for side in ('top', 'right'):
        ax.spines[side].set_visible(False)
    ax.spines['left'].set_color('#a0a0a0')
    ax.spines['left'].set_linewidth(3)
    ax.spines['bottom'].set_color('#8f8f8f')
    ax.spines['bottom'].set_linewidth(4)
    ax.axhline(0, color='#8c8c8c', lw=3.5, zorder=1)

    ax.tick_params(which='major', length=20, width=2.5, color='#9a9a9a',
                   labelsize=36, labelcolor='#333333', pad=9)
    ax.tick_params(which='minor', length=13, width=2, color='#9a9a9a')

    ax.add_patch(Rectangle((0.05, 0), lim - 0.05, 1, fill=False,
                           ec='#e07878', lw=3, zorder=2, clip_on=False))

    ax.scatter(pts[:, 0], pts[:, 1], s=1100, c='#6ba352', edgecolors='#3d6e29',
               linewidths=2.2, zorder=3)

    ax.set_xlabel('p[1]', fontsize=34, color='#555555', labelpad=8)
    ax.set_ylabel('p(corr)[1]', fontsize=27, color='#555555')
    ax.yaxis.set_label_coords(p['ylab_x'], 0.5)
    ax.text(p['tagpos'][0], p['tagpos'][1], p['tag'], transform=ax.transAxes,
            fontsize=34, fontweight='bold', ha='left', va='center')

fig.savefig('out.png', dpi=100, facecolor='white')
